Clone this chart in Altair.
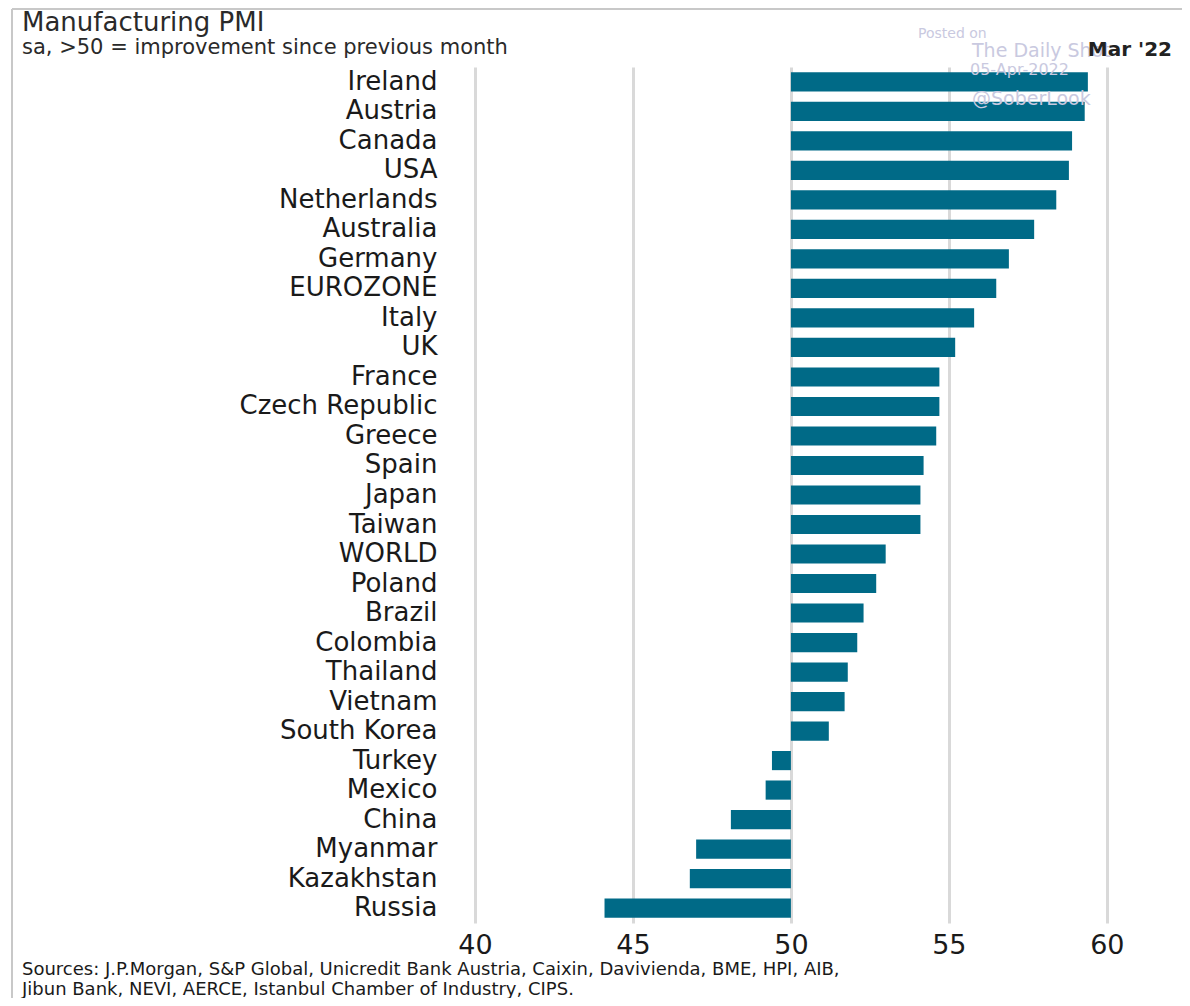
import altair as alt
import pandas as pd

countries = ["Ireland", "Austria", "Canada", "USA", "Netherlands", "Australia", "Germany",
             "EUROZONE", "Italy", "UK", "France", "Czech Republic", "Greece", "Spain", "Japan",
             "Taiwan", "WORLD", "Poland", "Brazil", "Colombia", "Thailand", "Vietnam",
             "South Korea", "Turkey", "Mexico", "China", "Myanmar", "Kazakhstan", "Russia"]
values = [59.4, 59.3, 58.9, 58.8, 58.4, 57.7, 56.9, 56.5, 55.8, 55.2, 54.7, 54.7, 54.6, 54.2,
          54.1, 54.1, 53.0, 52.7, 52.3, 52.1, 51.8, 51.7, 51.2, 49.4, 49.2, 48.1, 47.0, 46.8, 44.1]
baseline = 50
x_ticks = [40, 45, 50, 55, 60]

title_text = "Manufacturing PMI"
subtitle_text = "sa, >50 = improvement since previous month"
period_text = "Mar '22"
source_lines = ["Sources: J.P.Morgan, S&P Global, Unicredit Bank Austria, Caixin, Davivienda, BME, HPI, AIB,",
                "Jibun Bank, NEVI, AERCE, Istanbul Chamber of Industry, CIPS."]
watermark = ["Posted on", "The Daily Shot", "05-Apr-2022", "@SoberLook"]

df = pd.DataFrame({"country": countries, "value": values, "base": [baseline] * len(values)})

FONT = "DejaVu Sans"
W, H = 695, 856
PL, PT = 467, 59

bars = alt.Chart(df).mark_bar(color="#006A87").encode(
    y=alt.Y("country:N", sort=countries,
            scale=alt.Scale(paddingInner=0.35, paddingOuter=0.18),
            axis=alt.Axis(title=None, domain=False, ticks=False, labelPadding=38,
                          labelFontSize=26, labelFont=FONT, labelColor="#1a1a1a",
                          labelLimit=440)),
    x=alt.X("base:Q", scale=alt.Scale(domain=[40, 62], nice=False, zero=False),
            axis=alt.Axis(title=None, values=x_ticks, domain=False, ticks=False,
                          labelPadding=9, labelFontSize=27, labelFont=FONT,
                          labelColor="#1a1a1a", grid=True, gridColor="#d9d9d9",
                          gridWidth=3, labelFlush=False)),
    x2="value:Q",
)


def txt(text, px, py, size, color="#222222", weight="normal", align="left", font=FONT):
    return alt.Chart(alt.Data(values=[{}])).mark_text(
        align=align, baseline="alphabetic", fontSize=size, font=font,
        fontWeight=weight, color=color
    ).encode(x=alt.value(px - 475), y=alt.value(py - 67), text=alt.value(text))


wm_color = "#c9c9e0"
layers = [
    bars,
    txt(title_text, 22, 31, 26, color="#2a2a2a"),
    txt(subtitle_text, 22, 54, 21, color="#2a2a2a"),
    txt(watermark[0], 918, 38, 14, color=wm_color),
    txt(watermark[1], 972, 57, 19, color=wm_color),
    txt(watermark[2], 970, 75, 16, color=wm_color),
    txt(watermark[3], 972, 105, 19, color=wm_color),
    txt(period_text, 1172, 56, 20, color="#222222", weight="bold", align="right"),
    txt(source_lines[0], 22, 975, 18, color="#1a1a1a"),
    txt(source_lines[1], 22, 995, 18, color="#1a1a1a"),
    alt.Chart(alt.Data(values=[{}])).mark_rule(color="#c8c8c8", strokeWidth=2).encode(
        x=alt.value(12 - 475), y=alt.value(9 - 67), y2=alt.value(998 - 67)),
    alt.Chart(alt.Data(values=[{}])).mark_rule(color="#c8c8c8", strokeWidth=2).encode(
        x=alt.value(12 - 475), x2=alt.value(1182 - 475), y=alt.value(9 - 67)),
]

chart = alt.layer(*layers).properties(
    width=W, height=H,
    background="white",
    autosize=alt.AutoSizeParams(type="none"),
    padding={"left": PL, "top": PT, "right": 12, "bottom": 75},
).configure_view(stroke=None)

chart.save("out.html", embed_options={"renderer": "svg", "actions": False})
